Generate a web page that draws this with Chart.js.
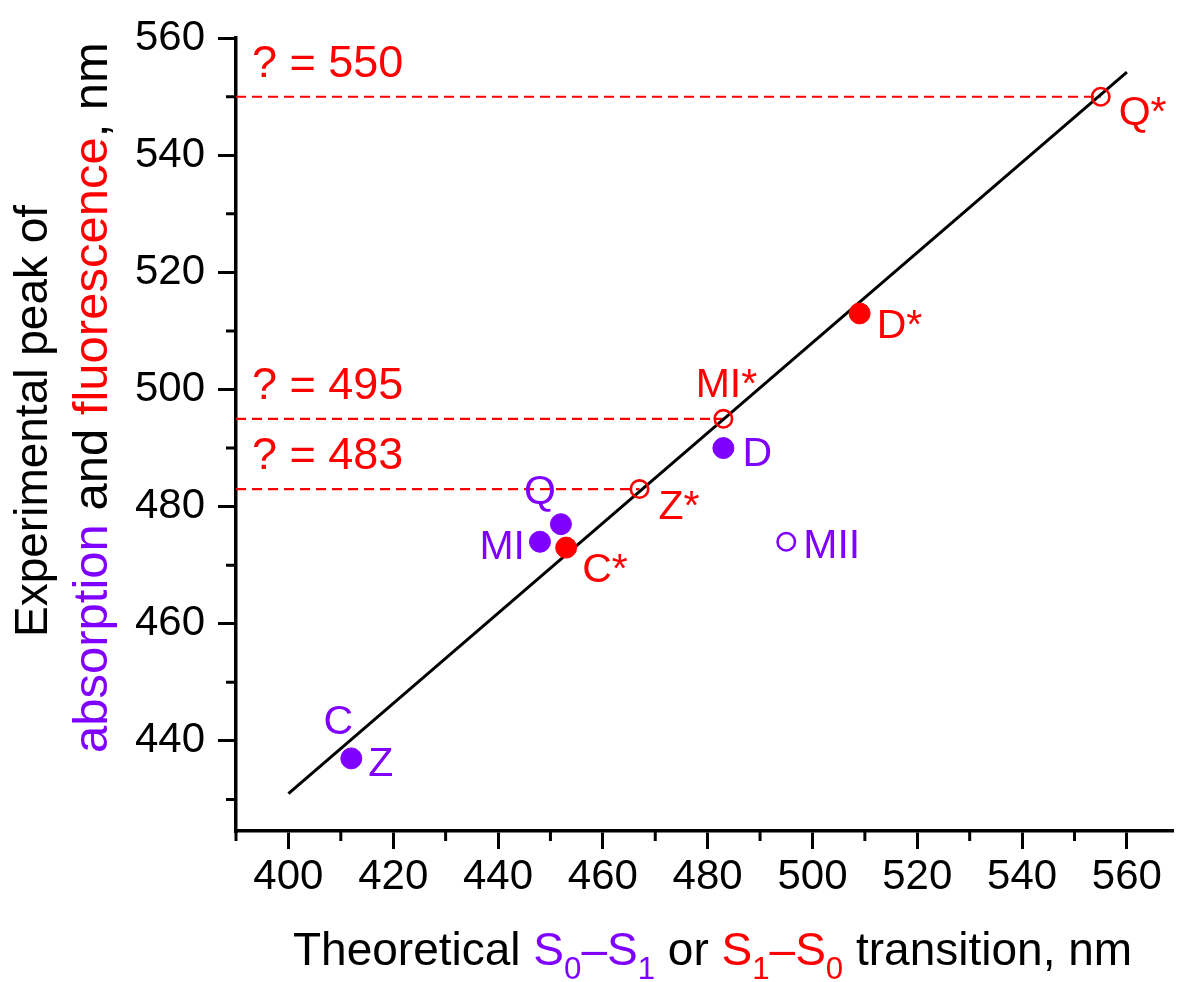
<!DOCTYPE html>
<html>
<head>
<meta charset="utf-8">
<style>
  html, body { margin: 0; padding: 0; background: #fff; }
  #wrap { width: 1184px; height: 982px; position: relative; }
</style>
<script src="https://cdn.jsdelivr.net/npm/chart.js@4.4.1/dist/chart.umd.min.js"></script>
</head>
<body>
<div id="wrap"><canvas id="chart" width="1184" height="982"></canvas></div>
<script>
// Peak positions (nm): theoretical transition (x) vs experimental peak (y)

// absorption, S0–S1 (filled purple)
const absNames = ['C/Z', 'MI', 'Q', 'D'];
const absX = [412, 448, 452, 483];
const absY = [437, 474, 477, 490];

// absorption, open purple
const absOpenNames = ['MII'];
const absOpenX = [495];
const absOpenY = [474];

// fluorescence, S1–S0 (filled red)
const fluNames = ['C*', 'D*'];
const fluX = [453, 509];
const fluY = [473, 513];

// fluorescence, open red (predicted)
const fluOpenNames = ['Z*', 'MI*', 'Q*'];
const fluOpenX = [467, 483, 555];
const fluOpenY = [483, 495, 550];

// linear fit
const fitX = [400, 560];
const fitY = [431, 554.2];

// axis ranges and tick labels
const xMin = 390, xMax = 568.7;
const yMin = 424.6, yMax = 560;
const xTickLabels = [400, 420, 440, 460, 480, 500, 520, 540, 560];
const yTickLabels = [440, 460, 480, 500, 520, 540, 560];
const xMinorTicks = [390, 410, 430, 450, 470, 490, 510, 530, 550];
const yMinorTicks = [430, 450, 470, 490, 510, 530, 550];

const PURPLE = '#8000FF';
const RED = '#FF0000';
const FONT = '"Liberation Sans", Arial, sans-serif';

const pts = (xs, ys) => xs.map((x, i) => ({ x: x, y: ys[i] }));

// dashed guides run from the left axis to each predicted point
const guides = fluOpenX.map((x, i) => ({ x: x, y: fluOpenY[i] }));

// label placement around each marker: [dx, dy, align]
const labelPlacement = {
  'C':   [-13, -36, 'center'],
  'Z':   [17, 6, 'left'],
  'MI':  [-15, 6, 'right'],
  'Q':   [-21, -31, 'center'],
  'D':   [19, 7, 'left'],
  'MII': [17, 5, 'left'],
  'C*':  [16, 23, 'left'],
  'D*':  [17, 13, 'left'],
  'Z*':  [19, 19, 'left'],
  'MI*': [3, -33, 'center'],
  'Q*':  [18, 17, 'left']
};

const datasets = [
  {
    label: 'absorption', data: pts(absX, absY), names: absNames,
    backgroundColor: PURPLE, borderColor: PURPLE, pointRadius: 10.5, borderWidth: 1,
    showLine: false, order: 0, txtColor: PURPLE
  },
  {
    label: 'absorption open', data: pts(absOpenX, absOpenY), names: absOpenNames,
    backgroundColor: 'rgba(0,0,0,0)', borderColor: PURPLE, pointRadius: 8.7, borderWidth: 2.6,
    showLine: false, order: 0, txtColor: PURPLE
  },
  {
    label: 'fluorescence', data: pts(fluX, fluY), names: fluNames,
    backgroundColor: RED, borderColor: RED, pointRadius: 10.5, borderWidth: 1,
    showLine: false, order: 0, txtColor: RED
  },
  {
    label: 'fluorescence open', data: pts(fluOpenX, fluOpenY), names: fluOpenNames,
    backgroundColor: 'rgba(0,0,0,0)', borderColor: RED, pointRadius: 8.7, borderWidth: 2.6,
    showLine: false, order: 0, txtColor: RED
  },
  {
    label: 'fit', data: pts(fitX, fitY), showLine: true, borderColor: '#000',
    borderWidth: 3, pointRadius: 0, order: 1
  }
];
guides.forEach((g, i) => {
  datasets.push({
    label: 'guide ' + i, data: [{ x: xMin, y: g.y }, { x: g.x, y: g.y }],
    showLine: true, borderColor: RED, borderWidth: 2.2, borderDash: [10, 6],
    pointRadius: 0, order: 2, guide: true
  });
});

// short minor ticks between the labelled ones
const minorTicks = {
  id: 'minorTicks',
  afterDraw(chart) {
    const ctx = chart.ctx, xs = chart.scales.x, ys = chart.scales.y;
    const area = chart.chartArea;
    ctx.save();
    ctx.strokeStyle = '#000';
    ctx.lineWidth = 3;
    ctx.beginPath();
    xMinorTicks.forEach(v => {
      const px = xs.getPixelForValue(v);
      ctx.moveTo(px, area.bottom);
      ctx.lineTo(px, area.bottom + 10);
    });
    yMinorTicks.forEach(v => {
      const py = ys.getPixelForValue(v);
      ctx.moveTo(area.left, py);
      ctx.lineTo(area.left - 10, py);
    });
    ctx.stroke();
    ctx.restore();
  }
};

// names next to markers and the "? = value" notes over the guides
const markerText = {
  id: 'markerText',
  afterDatasetsDraw(chart) {
    const ctx = chart.ctx, xs = chart.scales.x, ys = chart.scales.y;
    ctx.save();
    ctx.textBaseline = 'middle';
    ctx.font = '41px ' + FONT;
    chart.data.datasets.forEach(ds => {
      if (!ds.names) return;
      ds.data.forEach((p, i) => {
        const px = xs.getPixelForValue(p.x), py = ys.getPixelForValue(p.y);
        ds.names[i].split('/').forEach(name => {
          const pl = labelPlacement[name];
          ctx.fillStyle = ds.txtColor;
          ctx.textAlign = pl[2];
          ctx.fillText(name, px + pl[0], py + pl[1]);
        });
      });
    });
    ctx.font = '45px ' + FONT;
    ctx.fillStyle = RED;
    ctx.textAlign = 'left';
    guides.forEach(g => {
      const py = ys.getPixelForValue(g.y);
      ctx.fillText('? = ' + g.y, chart.chartArea.left + 16, py - 32);
    });
    ctx.restore();
  }
};

// axis titles with coloured words and subscripts
function drawRuns(ctx, runs, x, y, size) {
  let cx = x;
  runs.forEach(r => {
    const s = r.sub ? size * 0.68 : size;
    ctx.font = s + 'px ' + FONT;
    ctx.fillStyle = r.c;
    ctx.fillText(r.t, cx, r.sub ? y + 14 : y);
    cx += ctx.measureText(r.t).width;
  });
}
const axisTitles = {
  id: 'axisTitles',
  afterDraw(chart) {
    const ctx = chart.ctx;
    ctx.save();
    ctx.textBaseline = 'alphabetic';
    ctx.textAlign = 'left';
    drawRuns(ctx, [
      { t: 'Theoretical ', c: '#000' },
      { t: 'S', c: PURPLE }, { t: '0', c: PURPLE, sub: true },
      { t: '–S', c: PURPLE }, { t: '1', c: PURPLE, sub: true },
      { t: ' or ', c: '#000' },
      { t: 'S', c: RED }, { t: '1', c: RED, sub: true },
      { t: '–S', c: RED }, { t: '0', c: RED, sub: true },
      { t: ' transition, nm', c: '#000' }
    ], 293, 965, 46);

    ctx.save();
    ctx.translate(47, 637);
    ctx.rotate(-Math.PI / 2);
    drawRuns(ctx, [{ t: 'Experimental peak of', c: '#000' }], 0, 0, 46);
    ctx.restore();

    ctx.save();
    ctx.translate(107, 753);
    ctx.rotate(-Math.PI / 2);
    drawRuns(ctx, [
      { t: 'absorption', c: PURPLE },
      { t: ' and ', c: '#000' },
      { t: 'fluorescence', c: RED },
      { t: ', nm', c: '#000' }
    ], 0, 0, 49);
    ctx.restore();
    ctx.restore();
  }
};

new Chart(document.getElementById('chart'), {
  type: 'scatter',
  data: { datasets: datasets },
  plugins: [minorTicks, markerText, axisTitles],
  options: {
    responsive: false,
    animation: false,
    layout: { padding: { top: 36, right: 0, bottom: 0, left: 0 } },
    plugins: { legend: { display: false }, tooltip: { enabled: false } },
    elements: { line: { tension: 0 } },
    scales: {
      x: {
        type: 'linear', position: 'bottom', min: xMin, max: xMax,
        afterBuildTicks: s => { s.ticks = xTickLabels.map(v => ({ value: v })); },
        afterFit: s => { s.height = 151; },
        ticks: { color: '#000', font: { family: FONT, size: 42 }, padding: 3, maxRotation: 0, autoSkip: false },
        grid: { drawOnChartArea: false, drawTicks: true, tickLength: 18, color: '#000', lineWidth: 3 },
        border: { display: true, color: '#000', width: 3.5 }
      },
      y: {
        type: 'linear', position: 'left', min: yMin, max: yMax,
        afterBuildTicks: s => { s.ticks = yTickLabels.map(v => ({ value: v })); },
        afterFit: s => { s.width = 236; },
        ticks: { color: '#000', font: { family: FONT, size: 42 }, padding: 13, autoSkip: false },
        grid: { drawOnChartArea: false, drawTicks: true, tickLength: 18, color: '#000', lineWidth: 3 },
        border: { display: true, color: '#000', width: 3.5 }
      }
    }
  }
});
</script>
</body>
</html>
